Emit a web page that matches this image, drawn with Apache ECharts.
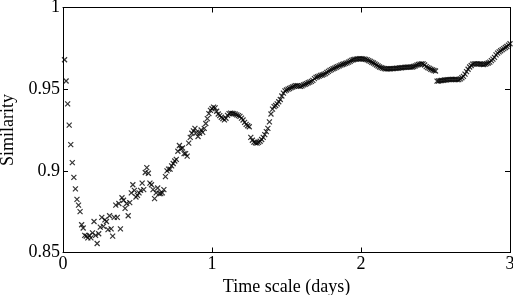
<!DOCTYPE html>
<html>
<head>
<meta charset="utf-8">
<script src="https://cdn.jsdelivr.net/npm/echarts@6/dist/echarts.min.js"></script>
<style>
  html, body { margin: 0; padding: 0; background: #fff; }
  #chart { width: 513px; height: 295px; }
</style>
</head>
<body>
<div id="chart"></div>
<script>
// one sample every 15 minutes -> 96 samples per day
const samplesPerDay = 96
const xRange = [0, 3]
const yRange = [0.85, 1]
const xLabel = 'Time scale (days)'
const yLabel = 'Similarity'

// first day (noisy part)
const similarityDay1 = [
  0.968, 0.955, 0.941, 0.928, 0.916, 0.905, 0.896, 0.889, 0.8825, 0.879,
  0.875, 0.867, 0.865, 0.8605, 0.860, 0.859, 0.8605, 0.859, 0.862, 0.869,
  0.8605, 0.8555, 0.8615, 0.8655, 0.8715, 0.866, 0.870, 0.869, 0.864, 0.8725,
  0.8645, 0.860, 0.8715, 0.879, 0.8715, 0.880, 0.8645, 0.8835, 0.882, 0.877,
  0.880, 0.8725, 0.8805, 0.8865, 0.8915, 0.888, 0.884, 0.885, 0.8865, 0.888,
  0.8925, 0.8885, 0.899, 0.902, 0.8985, 0.8925, 0.8915, 0.8885, 0.883, 0.8865,
  0.8895, 0.886, 0.886, 0.8865, 0.8885, 0.8965, 0.900, 0.901, 0.901, 0.903,
  0.9045, 0.906, 0.907, 0.912, 0.9155, 0.9135, 0.914, 0.9105, 0.9105, 0.909,
  0.917, 0.9205, 0.923, 0.9245, 0.926, 0.9235, 0.921, 0.923, 0.925, 0.9235,
  0.926, 0.929, 0.932, 0.935, 0.937, 0.938
]

// days 2 and 3
const similarityLater = [
  0.939, 0.9385, 0.9365, 0.9348, 0.9338, 0.9328, 0.932, 0.9312, 0.9322, 0.934, 0.935, 0.9353,
  0.9351, 0.935, 0.9347, 0.9343, 0.9338, 0.9333, 0.9323, 0.9311, 0.9297, 0.9284, 0.9276, 0.927,
  0.9205, 0.9187, 0.9176, 0.9172, 0.917, 0.9174, 0.9181, 0.9192, 0.9205, 0.9222, 0.924, 0.926,
  0.93, 0.9348, 0.9378, 0.9393, 0.94, 0.941, 0.9423, 0.9437, 0.9458, 0.9476, 0.949, 0.9495,
  0.95, 0.9504, 0.9509, 0.9513, 0.9518, 0.9522, 0.9522, 0.9519, 0.9517, 0.952, 0.9526, 0.953,
  0.9534, 0.9539, 0.9543, 0.9548, 0.9554, 0.9565, 0.9572, 0.9576, 0.958, 0.9584, 0.9587, 0.9591,
  0.9595, 0.9602, 0.9609, 0.9615, 0.962, 0.9625, 0.9629, 0.9634, 0.9638, 0.9643, 0.9647, 0.9651,
  0.9654, 0.9658, 0.9661, 0.9666, 0.9671, 0.9676, 0.968, 0.9682, 0.9684, 0.9685, 0.9686, 0.9686,
  0.9685, 0.9684, 0.9682, 0.9679, 0.9675, 0.967, 0.9665, 0.966, 0.9654, 0.9648, 0.9642, 0.9636,
  0.9632, 0.9629, 0.9626, 0.9624, 0.9624, 0.9625, 0.9625, 0.9626, 0.9626, 0.9627, 0.9628, 0.9629,
  0.963, 0.9631, 0.9632, 0.9633, 0.9634, 0.9635, 0.9635, 0.9635, 0.9636, 0.9639, 0.9643, 0.9647,
  0.9651, 0.9653, 0.9655, 0.9655, 0.9648, 0.9638, 0.9632, 0.9627, 0.9622, 0.9618, 0.9614, 0.9611,
  0.9549, 0.955, 0.9552, 0.9553, 0.9554, 0.9556, 0.9557, 0.9558, 0.9558, 0.9559, 0.956, 0.956,
  0.9559, 0.9558, 0.9558, 0.9563, 0.957, 0.9578, 0.9592, 0.9607, 0.9622, 0.9636, 0.9645, 0.9653,
  0.9655, 0.9655, 0.9655, 0.9655, 0.9654, 0.9652, 0.9651, 0.9653, 0.9656, 0.966, 0.9666, 0.9675,
  0.9684, 0.9695, 0.971, 0.9721, 0.9728, 0.9735, 0.9742, 0.9748, 0.9755, 0.9761, 0.977, 0.9778
]

const similarity = similarityDay1.concat(similarityLater)
const points = similarity.map((v, i) => [(i + 1) / samplesPerDay, v])

const font = 'Liberation Serif'
const txt = { fontFamily: font, fontSize: 18, color: '#000' }
const line = { show: true, onZero: false, lineStyle: { color: '#000', width: 1 } }
const tick = { show: true, inside: true, length: 5, lineStyle: { color: '#000', width: 1 } }

const chart = echarts.init(document.getElementById('chart'), null, { renderer: 'canvas' })
chart.setOption({
  animation: false,
  backgroundColor: '#fff',
  grid: { left: 63, right: 3, top: 7.5, bottom: 42.5, containLabel: false, outerBoundsMode: 'none' },
  xAxis: [
    {
      type: 'value', min: xRange[0], max: xRange[1], interval: 1,
      name: xLabel, nameLocation: 'middle', nameGap: 15,
      nameTextStyle: txt,
      axisLine: line, axisTick: tick, splitLine: { show: false },
      axisLabel: Object.assign({ margin: 3 }, txt)
    },
    {
      type: 'value', position: 'top', min: xRange[0], max: xRange[1], interval: 1,
      axisLine: line, axisTick: tick, splitLine: { show: false },
      axisLabel: { show: false }
    }
  ],
  yAxis: [
    {
      type: 'value', min: yRange[0], max: yRange[1], interval: 0.05,
      name: yLabel, nameLocation: 'middle', nameGap: 37,
      nameTextStyle: txt,
      axisLine: line, axisTick: tick, splitLine: { show: false },
      axisLabel: Object.assign({ margin: 3 }, txt)
    },
    {
      type: 'value', position: 'right', min: yRange[0], max: yRange[1], interval: 0.05,
      axisLine: line, axisTick: tick, splitLine: { show: false },
      axisLabel: { show: false }
    }
  ],
  series: [
    {
      type: 'scatter',
      data: points,
      symbol: 'path://M0,0L10,10M10,0L0,10',
      symbolSize: 5,
      clip: false,
      itemStyle: { color: 'rgba(0,0,0,0)', borderColor: '#000', borderWidth: 1.2 }
    }
  ]
})
</script>
</body>
</html>
